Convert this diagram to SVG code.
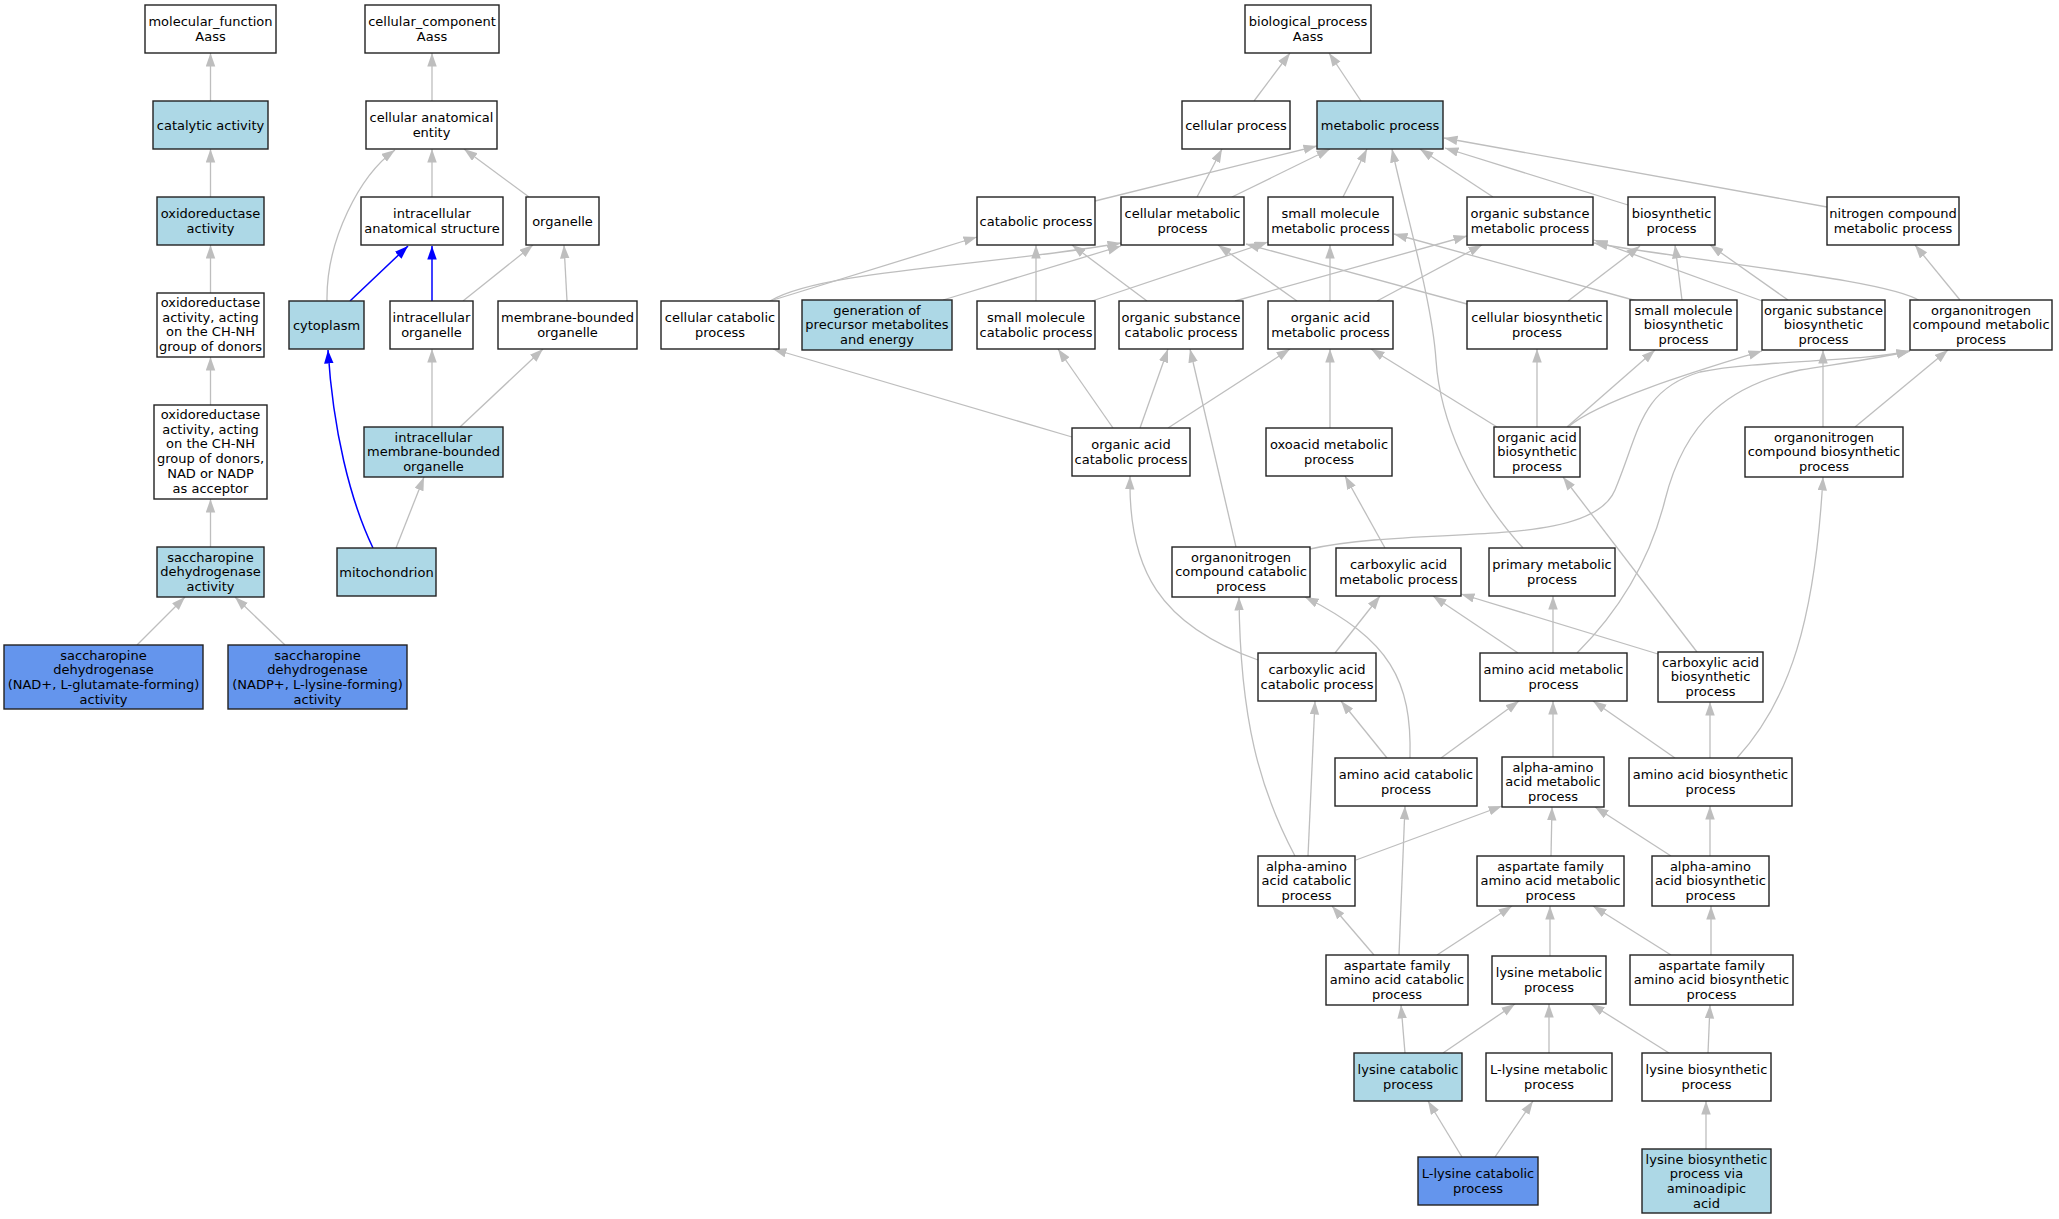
<svg xmlns="http://www.w3.org/2000/svg" width="2059" height="1219" viewBox="0 0 2059 1219">
<style>
rect{stroke:#222;stroke-width:1.4}
.w{fill:#ffffff}
.l{fill:#add8e6}
.c{fill:#6495ed}
text{font-family:"DejaVu Sans","Liberation Sans",sans-serif;font-size:13px;fill:#000;text-anchor:middle}
.e{fill:none;stroke:#bebebe;stroke-width:1.3;marker-end:url(#ag)}
.b{fill:none;stroke:#0000ff;stroke-width:1.5;marker-end:url(#ab)}
</style>
<defs>
<marker id="ag" markerUnits="userSpaceOnUse" viewBox="0 0 14 10" markerWidth="14" markerHeight="10" refX="13.5" refY="4.75" orient="auto"><path d="M0,0 L13.5,4.75 L0,9.5 z" fill="#bebebe"/></marker>
<marker id="ab" markerUnits="userSpaceOnUse" viewBox="0 0 14 10" markerWidth="14" markerHeight="10" refX="13.5" refY="4.75" orient="auto"><path d="M0,0 L13.5,4.75 L0,9.5 z" fill="#0000ff"/></marker>
</defs>
<rect x="0" y="0" width="2059" height="1219" style="fill:#fff;stroke:none"/>
<g id="edges">
<path class="e" d="M210.5,101 L210.5,53"/>
<path class="e" d="M210.5,197 L210.5,149"/>
<path class="e" d="M210.5,293 L210.5,245"/>
<path class="e" d="M210.5,405 L210.5,357"/>
<path class="e" d="M210.5,547 L210.5,499"/>
<path class="e" d="M137,645 L185,597"/>
<path class="e" d="M285,645 L235,597"/>
<path class="e" d="M432,101 L432,53"/>
<path class="e" d="M432,197 L432,149"/>
<path class="e" d="M529,197 L464,149"/>
<path class="e" d="M327,301 C326,240 360,175 395,150"/>
<path class="b" d="M350,301 L408,246"/>
<path class="b" d="M432,301 L432,246"/>
<path class="e" d="M463,301 L533,245"/>
<path class="e" d="M567,301 L564,245"/>
<path class="e" d="M432,427 L432,349"/>
<path class="e" d="M460,427 L543,349"/>
<path class="e" d="M396,548 L424,477"/>
<path class="b" d="M373,548 C350,500 333,430 328,350"/>
<path class="e" d="M1254,101 L1290,53"/>
<path class="e" d="M1361,101 L1329,53"/>
<path class="e" d="M1095,201 L1317,146"/>
<path class="e" d="M1197,197 L1222,149"/>
<path class="e" d="M1232,197 L1330,149"/>
<path class="e" d="M1343,197 L1367,149"/>
<path class="e" d="M1493,197 L1420,149"/>
<path class="e" d="M1628,205 L1445,148"/>
<path class="e" d="M1827,207 L1444,138"/>
<path class="e" d="M1523,548 C1470,490 1440,420 1436,360 C1432,300 1405,210 1392,149"/>
<path class="e" d="M770,301 L977,237"/>
<path class="e" d="M770,301 C820,270 1000,265 1121,243"/>
<path class="e" d="M943,300 L1121,246"/>
<path class="e" d="M1036,301 L1036,245"/>
<path class="e" d="M1092,301 L1268,242"/>
<path class="e" d="M1147,301 L1072,245"/>
<path class="e" d="M1235,301 L1467,236"/>
<path class="e" d="M1297,301 L1218,245"/>
<path class="e" d="M1330,301 L1330,245"/>
<path class="e" d="M1377,301 L1482,245"/>
<path class="e" d="M1467,304 L1246,244"/>
<path class="e" d="M1568,301 L1640,246"/>
<path class="e" d="M1637,301 L1394,234"/>
<path class="e" d="M1682,300 L1675,245"/>
<path class="e" d="M1765,302 L1594,240"/>
<path class="e" d="M1788,300 L1710,245"/>
<path class="e" d="M1920,301 C1890,280 1700,262 1594,243"/>
<path class="e" d="M1960,300 L1915,245"/>
<path class="e" d="M1072,437 L773,349"/>
<path class="e" d="M1113,428 L1058,349"/>
<path class="e" d="M1140,428 L1168,349"/>
<path class="e" d="M1168,428 L1290,349"/>
<path class="e" d="M1330,428 L1330,349"/>
<path class="e" d="M1497,427 L1371,349"/>
<path class="e" d="M1537,427 L1537,349"/>
<path class="e" d="M1567,427 L1655,350"/>
<path class="e" d="M1568,427 C1600,400 1700,370 1762,351"/>
<path class="e" d="M1823,427 L1823,350"/>
<path class="e" d="M1855,427 L1948,350"/>
<path class="e" d="M1236,547 L1190,349"/>
<path class="e" d="M1310,549 C1420,525 1590,550 1615,490 C1640,430 1640,390 1700,372 C1760,360 1860,362 1910,351"/>
<path class="e" d="M1577,653 C1620,610 1650,560 1665,500 C1685,420 1730,385 1800,370 C1850,362 1880,358 1910,351"/>
<path class="e" d="M1385,548 L1345,476"/>
<path class="e" d="M1258,660 C1160,625 1128,570 1130,476"/>
<path class="e" d="M1335,653 L1380,596"/>
<path class="e" d="M1518,653 L1433,596"/>
<path class="e" d="M1553,653 L1553,596"/>
<path class="e" d="M1658,654 L1461,594"/>
<path class="e" d="M1697,652 L1563,477"/>
<path class="e" d="M1410,758 C1412,680 1390,640 1305,597"/>
<path class="e" d="M1295,856 C1260,790 1240,720 1239,597"/>
<path class="e" d="M1308,856 L1315,701"/>
<path class="e" d="M1387,758 L1341,701"/>
<path class="e" d="M1441,758 L1519,701"/>
<path class="e" d="M1553,757 L1553,701"/>
<path class="e" d="M1675,758 L1593,701"/>
<path class="e" d="M1710,758 L1710,702"/>
<path class="e" d="M1737,758 C1790,700 1815,620 1823,477"/>
<path class="e" d="M1356,860 L1502,806"/>
<path class="e" d="M1551,856 L1552,807"/>
<path class="e" d="M1671,856 L1595,807"/>
<path class="e" d="M1710,856 L1710,806"/>
<path class="e" d="M1374,955 L1332,906"/>
<path class="e" d="M1437,955 L1512,906"/>
<path class="e" d="M1399,955 L1405,806"/>
<path class="e" d="M1550,956 L1550,906"/>
<path class="e" d="M1671,955 L1593,906"/>
<path class="e" d="M1711,955 L1711,906"/>
<path class="e" d="M1405,1053 L1401,1005"/>
<path class="e" d="M1443,1053 L1515,1004"/>
<path class="e" d="M1549,1053 L1549,1004"/>
<path class="e" d="M1669,1053 L1591,1004"/>
<path class="e" d="M1708,1053 L1710,1005"/>
<path class="e" d="M1462,1157 L1428,1101"/>
<path class="e" d="M1495,1157 L1533,1101"/>
<path class="e" d="M1706,1149 L1706,1101"/>
</g>
<g id="n_mf"><rect class="w" x="145" y="5" width="131" height="48"/><text x="210.5" y="26">molecular_function<tspan x="210.5" dy="15">Aass</tspan></text></g>
<g id="n_cat"><rect class="l" x="153" y="101" width="115" height="48"/><text x="210.5" y="129.5">catalytic activity</text></g>
<g id="n_oxr"><rect class="l" x="157" y="197" width="107" height="48"/><text x="210.5" y="218">oxidoreductase<tspan x="210.5" dy="15">activity</tspan></text></g>
<g id="n_chnh"><rect class="w" x="157" y="293" width="107" height="64"/><text x="210.5" y="307">oxidoreductase<tspan x="210.5" dy="14.7">activity, acting</tspan><tspan x="210.5" dy="14.7">on the CH-NH</tspan><tspan x="210.5" dy="14.7">group of donors</tspan></text></g>
<g id="n_nad"><rect class="w" x="154" y="405" width="113" height="94"/><text x="210.5" y="419">oxidoreductase<tspan x="210.5" dy="14.7">activity, acting</tspan><tspan x="210.5" dy="14.7">on the CH-NH</tspan><tspan x="210.5" dy="14.7">group of donors,</tspan><tspan x="210.5" dy="14.7">NAD or NADP</tspan><tspan x="210.5" dy="14.7">as acceptor</tspan></text></g>
<g id="n_sdh"><rect class="l" x="157" y="547" width="107" height="50"/><text x="210.5" y="561.5">saccharopine<tspan x="210.5" dy="14.7">dehydrogenase</tspan><tspan x="210.5" dy="14.7">activity</tspan></text></g>
<g id="n_sdh1"><rect class="c" x="4" y="645" width="199" height="64"/><text x="103.5" y="659.5">saccharopine<tspan x="103.5" dy="14.7">dehydrogenase</tspan><tspan x="103.5" dy="14.7">(NAD+, L-glutamate-forming)</tspan><tspan x="103.5" dy="14.7">activity</tspan></text></g>
<g id="n_sdh2"><rect class="c" x="228" y="645" width="179" height="64"/><text x="317.5" y="659.5">saccharopine<tspan x="317.5" dy="14.7">dehydrogenase</tspan><tspan x="317.5" dy="14.7">(NADP+, L-lysine-forming)</tspan><tspan x="317.5" dy="14.7">activity</tspan></text></g>
<g id="n_cc"><rect class="w" x="365" y="5" width="134" height="48"/><text x="432" y="26">cellular_component<tspan x="432" dy="15">Aass</tspan></text></g>
<g id="n_cae"><rect class="w" x="366" y="101" width="131" height="48"/><text x="431.5" y="122">cellular anatomical<tspan x="431.5" dy="15">entity</tspan></text></g>
<g id="n_ias"><rect class="w" x="361" y="197" width="142" height="48"/><text x="432" y="218">intracellular<tspan x="432" dy="15">anatomical structure</tspan></text></g>
<g id="n_org"><rect class="w" x="526" y="197" width="73" height="48"/><text x="562.5" y="225.5">organelle</text></g>
<g id="n_cyt"><rect class="l" x="289" y="301" width="75" height="48"/><text x="326.5" y="329.5">cytoplasm</text></g>
<g id="n_io"><rect class="w" x="390" y="301" width="83" height="48"/><text x="431.5" y="322">intracellular<tspan x="431.5" dy="15">organelle</tspan></text></g>
<g id="n_mbo"><rect class="w" x="498" y="301" width="139" height="48"/><text x="567.5" y="322">membrane-bounded<tspan x="567.5" dy="15">organelle</tspan></text></g>
<g id="n_imbo"><rect class="l" x="364" y="427" width="139" height="50"/><text x="433.5" y="441.5">intracellular<tspan x="433.5" dy="14.7">membrane-bounded</tspan><tspan x="433.5" dy="14.7">organelle</tspan></text></g>
<g id="n_mito"><rect class="l" x="337" y="548" width="99" height="48"/><text x="386.5" y="576.5">mitochondrion</text></g>
<g id="n_bp"><rect class="w" x="1245" y="5" width="126" height="48"/><text x="1308" y="26">biological_process<tspan x="1308" dy="15">Aass</tspan></text></g>
<g id="n_cp"><rect class="w" x="1182" y="101" width="108" height="48"/><text x="1236" y="129.5">cellular process</text></g>
<g id="n_mp"><rect class="l" x="1317" y="101" width="126" height="48"/><text x="1380" y="129.5">metabolic process</text></g>
<g id="n_catp"><rect class="w" x="977" y="197" width="118" height="48"/><text x="1036" y="225.5">catabolic process</text></g>
<g id="n_cmp"><rect class="w" x="1121" y="197" width="123" height="48"/><text x="1182.5" y="218">cellular metabolic<tspan x="1182.5" dy="15">process</tspan></text></g>
<g id="n_smmp"><rect class="w" x="1268" y="197" width="125" height="48"/><text x="1330.5" y="218">small molecule<tspan x="1330.5" dy="15">metabolic process</tspan></text></g>
<g id="n_osmp"><rect class="w" x="1467" y="197" width="126" height="48"/><text x="1530" y="218">organic substance<tspan x="1530" dy="15">metabolic process</tspan></text></g>
<g id="n_bsp"><rect class="w" x="1628" y="197" width="87" height="48"/><text x="1671.5" y="218">biosynthetic<tspan x="1671.5" dy="15">process</tspan></text></g>
<g id="n_ncmp"><rect class="w" x="1827" y="197" width="132" height="48"/><text x="1893" y="218">nitrogen compound<tspan x="1893" dy="15">metabolic process</tspan></text></g>
<g id="n_ccp"><rect class="w" x="661" y="301" width="118" height="48"/><text x="720" y="322">cellular catabolic<tspan x="720" dy="15">process</tspan></text></g>
<g id="n_gen"><rect class="l" x="802" y="300" width="150" height="50"/><text x="877" y="314.5">generation of<tspan x="877" dy="14.7">precursor metabolites</tspan><tspan x="877" dy="14.7">and energy</tspan></text></g>
<g id="n_smcp"><rect class="w" x="977" y="301" width="118" height="48"/><text x="1036" y="322">small molecule<tspan x="1036" dy="15">catabolic process</tspan></text></g>
<g id="n_oscp"><rect class="w" x="1119" y="301" width="124" height="48"/><text x="1181" y="322">organic substance<tspan x="1181" dy="15">catabolic process</tspan></text></g>
<g id="n_oamp"><rect class="w" x="1268" y="301" width="125" height="48"/><text x="1330.5" y="322">organic acid<tspan x="1330.5" dy="15">metabolic process</tspan></text></g>
<g id="n_cbp"><rect class="w" x="1467" y="301" width="140" height="48"/><text x="1537" y="322">cellular biosynthetic<tspan x="1537" dy="15">process</tspan></text></g>
<g id="n_smbp"><rect class="w" x="1630" y="300" width="107" height="50"/><text x="1683.5" y="314.5">small molecule<tspan x="1683.5" dy="14.7">biosynthetic</tspan><tspan x="1683.5" dy="14.7">process</tspan></text></g>
<g id="n_osbp"><rect class="w" x="1762" y="300" width="123" height="50"/><text x="1823.5" y="314.5">organic substance<tspan x="1823.5" dy="14.7">biosynthetic</tspan><tspan x="1823.5" dy="14.7">process</tspan></text></g>
<g id="n_oncmp"><rect class="w" x="1910" y="300" width="142" height="50"/><text x="1981" y="314.5">organonitrogen<tspan x="1981" dy="14.7">compound metabolic</tspan><tspan x="1981" dy="14.7">process</tspan></text></g>
<g id="n_oacp"><rect class="w" x="1072" y="428" width="118" height="48"/><text x="1131" y="449">organic acid<tspan x="1131" dy="15">catabolic process</tspan></text></g>
<g id="n_oxmp"><rect class="w" x="1266" y="428" width="126" height="48"/><text x="1329" y="449">oxoacid metabolic<tspan x="1329" dy="15">process</tspan></text></g>
<g id="n_oabp"><rect class="w" x="1494" y="427" width="86" height="50"/><text x="1537" y="441.5">organic acid<tspan x="1537" dy="14.7">biosynthetic</tspan><tspan x="1537" dy="14.7">process</tspan></text></g>
<g id="n_oncbp"><rect class="w" x="1745" y="427" width="158" height="50"/><text x="1824" y="441.5">organonitrogen<tspan x="1824" dy="14.7">compound biosynthetic</tspan><tspan x="1824" dy="14.7">process</tspan></text></g>
<g id="n_onccp"><rect class="w" x="1172" y="547" width="138" height="50"/><text x="1241" y="561.5">organonitrogen<tspan x="1241" dy="14.7">compound catabolic</tspan><tspan x="1241" dy="14.7">process</tspan></text></g>
<g id="n_camp"><rect class="w" x="1336" y="548" width="125" height="48"/><text x="1398.5" y="569">carboxylic acid<tspan x="1398.5" dy="15">metabolic process</tspan></text></g>
<g id="n_pmp"><rect class="w" x="1489" y="548" width="126" height="48"/><text x="1552" y="569">primary metabolic<tspan x="1552" dy="15">process</tspan></text></g>
<g id="n_cacp"><rect class="w" x="1258" y="653" width="118" height="48"/><text x="1317" y="674">carboxylic acid<tspan x="1317" dy="15">catabolic process</tspan></text></g>
<g id="n_aamp"><rect class="w" x="1480" y="653" width="147" height="48"/><text x="1553.5" y="674">amino acid metabolic<tspan x="1553.5" dy="15">process</tspan></text></g>
<g id="n_cabp"><rect class="w" x="1658" y="652" width="105" height="50"/><text x="1710.5" y="666.5">carboxylic acid<tspan x="1710.5" dy="14.7">biosynthetic</tspan><tspan x="1710.5" dy="14.7">process</tspan></text></g>
<g id="n_aacp"><rect class="w" x="1335" y="758" width="142" height="48"/><text x="1406" y="779">amino acid catabolic<tspan x="1406" dy="15">process</tspan></text></g>
<g id="n_aaamp"><rect class="w" x="1502" y="757" width="102" height="50"/><text x="1553" y="771.5">alpha-amino<tspan x="1553" dy="14.7">acid metabolic</tspan><tspan x="1553" dy="14.7">process</tspan></text></g>
<g id="n_aabp"><rect class="w" x="1629" y="758" width="163" height="48"/><text x="1710.5" y="779">amino acid biosynthetic<tspan x="1710.5" dy="15">process</tspan></text></g>
<g id="n_aaacp"><rect class="w" x="1258" y="856" width="97" height="50"/><text x="1306.5" y="870.5">alpha-amino<tspan x="1306.5" dy="14.7">acid catabolic</tspan><tspan x="1306.5" dy="14.7">process</tspan></text></g>
<g id="n_afmp"><rect class="w" x="1477" y="856" width="147" height="50"/><text x="1550.5" y="870.5">aspartate family<tspan x="1550.5" dy="14.7">amino acid metabolic</tspan><tspan x="1550.5" dy="14.7">process</tspan></text></g>
<g id="n_aaabp"><rect class="w" x="1652" y="856" width="117" height="50"/><text x="1710.5" y="870.5">alpha-amino<tspan x="1710.5" dy="14.7">acid biosynthetic</tspan><tspan x="1710.5" dy="14.7">process</tspan></text></g>
<g id="n_afcp"><rect class="w" x="1326" y="955" width="142" height="50"/><text x="1397" y="969.5">aspartate family<tspan x="1397" dy="14.7">amino acid catabolic</tspan><tspan x="1397" dy="14.7">process</tspan></text></g>
<g id="n_lmp"><rect class="w" x="1492" y="956" width="114" height="48"/><text x="1549" y="977">lysine metabolic<tspan x="1549" dy="15">process</tspan></text></g>
<g id="n_afbp"><rect class="w" x="1630" y="955" width="163" height="50"/><text x="1711.5" y="969.5">aspartate family<tspan x="1711.5" dy="14.7">amino acid biosynthetic</tspan><tspan x="1711.5" dy="14.7">process</tspan></text></g>
<g id="n_lcp"><rect class="l" x="1354" y="1053" width="108" height="48"/><text x="1408" y="1074">lysine catabolic<tspan x="1408" dy="15">process</tspan></text></g>
<g id="n_llmp"><rect class="w" x="1486" y="1053" width="126" height="48"/><text x="1549" y="1074">L-lysine metabolic<tspan x="1549" dy="15">process</tspan></text></g>
<g id="n_lbp"><rect class="w" x="1642" y="1053" width="129" height="48"/><text x="1706.5" y="1074">lysine biosynthetic<tspan x="1706.5" dy="15">process</tspan></text></g>
<g id="n_llcp"><rect class="c" x="1418" y="1157" width="120" height="48"/><text x="1478" y="1178">L-lysine catabolic<tspan x="1478" dy="15">process</tspan></text></g>
<g id="n_lbpaa"><rect class="l" x="1642" y="1149" width="129" height="64"/><text x="1706.5" y="1163.5">lysine biosynthetic<tspan x="1706.5" dy="14.7">process via</tspan><tspan x="1706.5" dy="14.7">aminoadipic</tspan><tspan x="1706.5" dy="14.7">acid</tspan></text></g>
</svg>
